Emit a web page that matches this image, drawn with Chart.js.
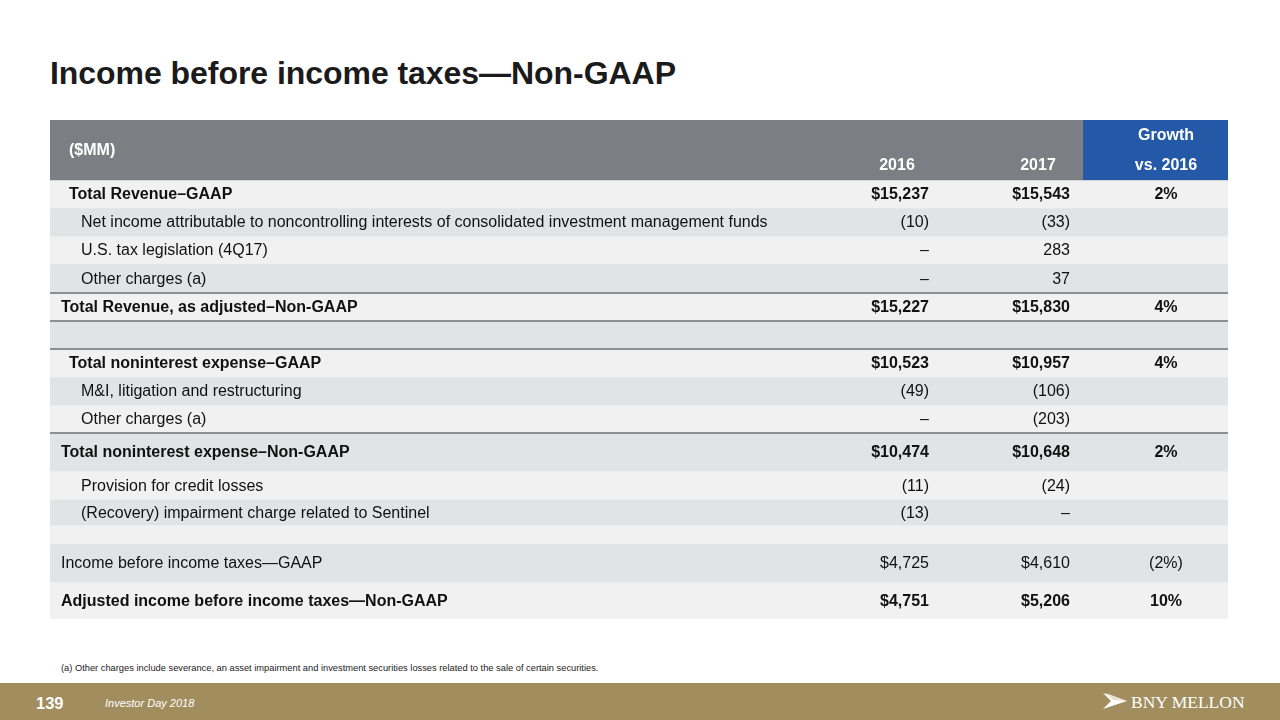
<!DOCTYPE html>
<html>
<head>
<meta charset="utf-8">
<script src="https://cdn.jsdelivr.net/npm/chart.js@4"></script>
<style>
  body { margin: 0; width: 1280px; height: 720px; background: #fff; position: relative; overflow: hidden; font-family: "Liberation Sans", Arial, sans-serif; }
  #title { position: absolute; left: 50px; top: 55px; font-size: 32px; font-weight: bold; color: #1b1b1b; letter-spacing: -0.05px; }
  #wrap { position: absolute; left: 50px; top: 120px; width: 1178px; height: 499px; }
  #note { position: absolute; left: 61px; top: 663px; font-size: 9.3px; color: #222; }
  #footer { position: absolute; left: 0; top: 683px; width: 1280px; height: 37px; background: #a18d5e; color: #fff; }
  #page { position: absolute; left: 36px; top: 11px; font-size: 16.5px; font-weight: bold; }
  #event { position: absolute; left: 105px; top: 14px; font-size: 11px; font-style: italic; }
  #logo { position: absolute; left: 1103px; top: 9px; }
  #logo span { position: absolute; left: 28px; top: 0px; font-family: "Liberation Serif", "DejaVu Serif", serif; font-size: 17.5px; white-space: nowrap; }
</style>
</head>
<body>
<div id="title">Income before income taxes—Non-GAAP</div>
<div id="wrap"><canvas id="tbl" width="1178" height="499"></canvas></div>
<div id="note">(a) Other charges include severance, an asset impairment and investment securities losses related to the sale of certain securities.</div>
<div id="footer">
  <div id="page">139</div>
  <div id="event">Investor Day 2018</div>
  <div id="logo">
    <svg width="26" height="18" viewBox="0 0 26 18"><path d="M0 1 L24 9 L0 17 L8 9 Z" fill="#fff"/><path d="M3 1 L24 9 L10 8 Z" fill="#e9e2d0"/></svg>
    <span>BNY MELLON</span>
  </div>
</div>
<script>
// header
var headCols = ["2016", "2017"];
var headGrowth = ["Growth", "vs. 2016"];
var unitLabel = "($MM)";

// rows
var rowLabels = [
  "Total Revenue–GAAP",
  "Net income attributable to noncontrolling interests of consolidated investment management funds",
  "U.S. tax legislation (4Q17)",
  "Other charges (a)",
  "Total Revenue, as adjusted–Non-GAAP",
  "",
  "Total noninterest expense–GAAP",
  "M&I, litigation and restructuring",
  "Other charges (a)",
  "Total noninterest expense–Non-GAAP",
  "Provision for credit losses",
  "(Recovery) impairment charge related to Sentinel",
  "",
  "Income before income taxes—GAAP",
  "Adjusted income before income taxes—Non-GAAP"
];
var val2016 = ["$15,237", "(10)", "–", "–", "$15,227", "", "$10,523", "(49)", "–", "$10,474", "(11)", "(13)", "", "$4,725", "$4,751"];
var val2017 = ["$15,543", "(33)", "283", "37", "$15,830", "", "$10,957", "(106)", "(203)", "$10,648", "(24)", "–", "", "$4,610", "$5,206"];
var growth = ["2%", "", "", "", "4%", "", "4%", "", "", "2%", "", "", "", "(2%)", "10%"];

// layout / style (not data)
var headHeight = 60;
var rowHeights = [28, 28, 28, 28.5, 28.5, 28, 28, 28, 28, 38, 28.5, 25.5, 19, 38, 37];
var indents = [19, 31, 31, 31, 11, 0, 19, 31, 31, 11, 31, 31, 0, 11, 11];
var bold = [1, 0, 0, 0, 1, 0, 1, 0, 0, 1, 0, 0, 0, 0, 1];
var lineAbove = [4, 5, 6, 9];
var light = "#f1f1f1", dark = "#e2e3e4";
var FONT = '"Liberation Sans", Arial, sans-serif';

var sets = [{ data: [headHeight], backgroundColor: "#7b7e82" }];
rowHeights.forEach(function (h, i) {
  sets.push({ data: [h], backgroundColor: i % 2 === 0 ? light : dark });
});
sets.forEach(function (s) {
  s.barPercentage = 1;
  s.categoryPercentage = 1;
  s.borderWidth = 0;
});
var total = headHeight + rowHeights.reduce(function (a, b) { return a + b; }, 0);

var tableText = {
  id: "tableText",
  afterDatasetsDraw: function (chart) {
    var ctx = chart.ctx;
    function cell(i) {
      var el = chart.getDatasetMeta(i).data[0];
      return { left: el.x - el.width / 2, right: el.x + el.width / 2, top: Math.min(el.y, el.base), bottom: Math.max(el.y, el.base) };
    }
    ctx.save();
    // header
    var h = cell(0);
    ctx.fillStyle = "#2459a8";
    ctx.fillRect(h.left + 1033, h.top, h.right - h.left - 1033, h.bottom - h.top);
    ctx.fillStyle = "#fff";
    ctx.font = "bold 16px " + FONT;
    ctx.textBaseline = "middle";
    ctx.textAlign = "left";
    ctx.fillText(unitLabel, h.left + 19, h.top + 31);
    ctx.textAlign = "center";
    ctx.fillText(headCols[0], h.left + 847, h.top + 46);
    ctx.fillText(headCols[1], h.left + 988, h.top + 46);
    ctx.fillText(headGrowth[0], h.left + 1116, h.top + 16);
    ctx.fillText(headGrowth[1], h.left + 1116, h.top + 46);

    // body rows
    for (var i = 0; i < rowLabels.length; i++) {
      var c = cell(i + 1);
      var cy = (c.top + c.bottom) / 2 + 1;
      ctx.fillStyle = "#111";
      ctx.font = (bold[i] ? "bold " : "") + "16px " + FONT;
      ctx.textAlign = "left";
      ctx.fillText(rowLabels[i], c.left + indents[i], cy);
      ctx.textAlign = "right";
      ctx.fillText(val2016[i], c.left + 879, cy);
      ctx.fillText(val2017[i], c.left + 1020, cy);
      ctx.textAlign = "center";
      ctx.fillText(growth[i], c.left + 1116, cy);
    }
    // separators
    ctx.fillStyle = "#8e8e8e";
    lineAbove.forEach(function (r) {
      var c = cell(r + 1);
      ctx.fillRect(c.left, Math.round(c.top) - 1, c.right - c.left, 2);
    });
    ctx.restore();
  }
};

new Chart(document.getElementById("tbl"), {
  type: "bar",
  data: { labels: ["table"], datasets: sets },
  options: {
    responsive: false,
    animation: false,
    layout: { padding: 0 },
    scales: {
      x: { stacked: true, display: false },
      y: { stacked: true, display: false, reverse: true, min: 0, max: total }
    },
    plugins: { legend: { display: false }, tooltip: { enabled: false } }
  },
  plugins: [tableText]
});
</script>
</body>
</html>
